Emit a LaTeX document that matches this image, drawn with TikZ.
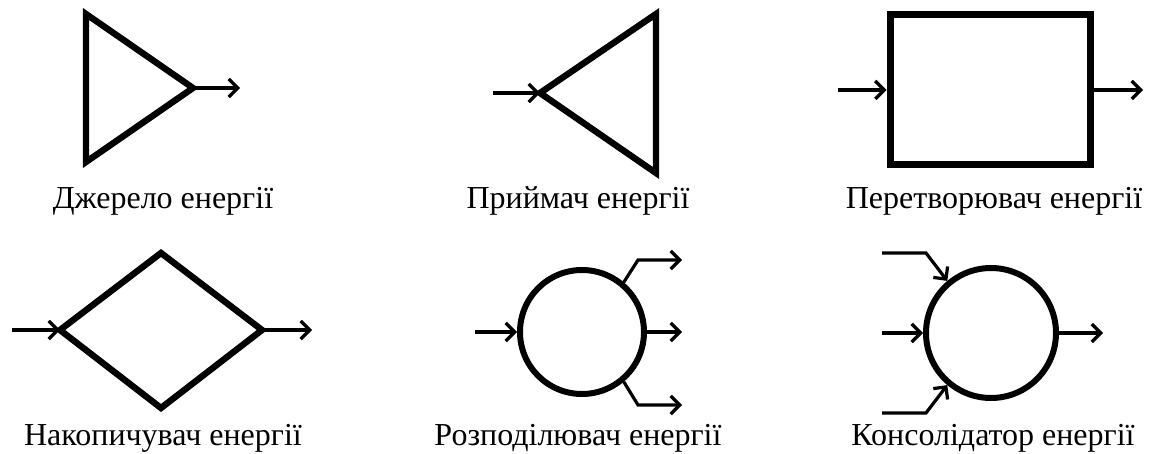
\documentclass[tikz,border=0pt]{standalone}
\usepackage{fontspec}
\setmainfont{Liberation Serif}
\usetikzlibrary{arrows.meta}

\tikzset{
  outline/.style={line width=3.2pt, line join=miter},
  flow/.style={line width=1.6pt, -{Straight Barb[length=4.5pt,width=9pt,line width=1.6pt]}},
  caption/.style={font=\fontsize{16}{18}\selectfont, inner sep=0pt, anchor=base},
  ring/.style={circle, draw, line width=3pt, minimum size=#1, inner sep=0pt},
}

\begin{document}
\begin{tikzpicture}[x=0.5pt, y=-0.5pt]
    \useasboundingbox (0,0) rectangle (1151,454);

    % source: triangle pointing right
    \coordinate (srcA) at (86,14);
    \coordinate (srcB) at (86,162);
    \coordinate (srcC) at (193,88);
    \coordinate (srcOut) at (240,88);
    \draw[outline] (srcA) -- (srcC) -- (srcB) -- cycle;
    \draw[flow] (srcC) -- (srcOut);
    \node[caption] (srcLabel) at (163,209) {Джерело енергії};

    % receiver: triangle pointing left
    \coordinate (rcvA) at (540,93);
    \coordinate (rcvB) at (656,14);
    \coordinate (rcvC) at (656,173);
    \coordinate (rcvIn) at (493,93);
    \draw[outline] (rcvA) -- (rcvB) -- (rcvC) -- cycle;
    \draw[flow] (rcvIn) -- (rcvA);
    \node[caption] (rcvLabel) at (578,209) {Приймач енергії};

    % converter
    \node[draw, line width=3.5pt, minimum width=100pt, minimum height=75pt] (conv) at (990,90) {};
    \coordinate (convIn) at (838,90);
    \coordinate (convOut) at (1143,90);
    \draw[flow] (convIn) -- (conv.west);
    \draw[flow] (conv.east) -- (convOut);
    \node[caption] (convLabel) at (994,209) {Перетворювач енергії};

    % accumulator: diamond
    \coordinate (accL) at (60,330);
    \coordinate (accT) at (161,253);
    \coordinate (accR) at (262,330);
    \coordinate (accB) at (161,408);
    \coordinate (accIn) at (12,330);
    \coordinate (accOut) at (312,330);
    \draw[outline] (accL) -- (accT) -- (accR) -- (accB) -- cycle;
    \draw[flow] (accIn) -- (accL);
    \draw[flow] (accR) -- (accOut);
    \node[caption] (accLabel) at (163,445) {Накопичувач енергії};

    % distributor
    \node[ring=62pt] (dist) at (582,332) {};
    \coordinate (distIn) at (475,332);
    \coordinate (distUp) at (638,260);
    \coordinate (distDown) at (638,405);
    \draw[flow] (distIn) -- (dist.west);
    \draw[flow] (dist.east) -- (682,332);
    \draw[flow] (dist.50) -- (distUp) -- (682,260);
    \draw[flow] (dist.-50) -- (distDown) -- (682,405);
    \node[caption] (distLabel) at (578,445) {Розподілювач енергії};

    % consolidator
    \node[ring=65pt] (cons) at (991,333) {};
    \coordinate (consUp) at (926,253);
    \coordinate (consDown) at (926,413);
    \draw[flow] (882,333) -- (cons.west);
    \draw[flow] (882,253) -- (consUp) -- (cons.130);
    \draw[flow] (882,413) -- (consDown) -- (cons.-130);
    \draw[flow] (cons.east) -- (1103,333);
    \node[caption] (consLabel) at (993,445) {Консолідатор енергії};
\end{tikzpicture}
\end{document}
